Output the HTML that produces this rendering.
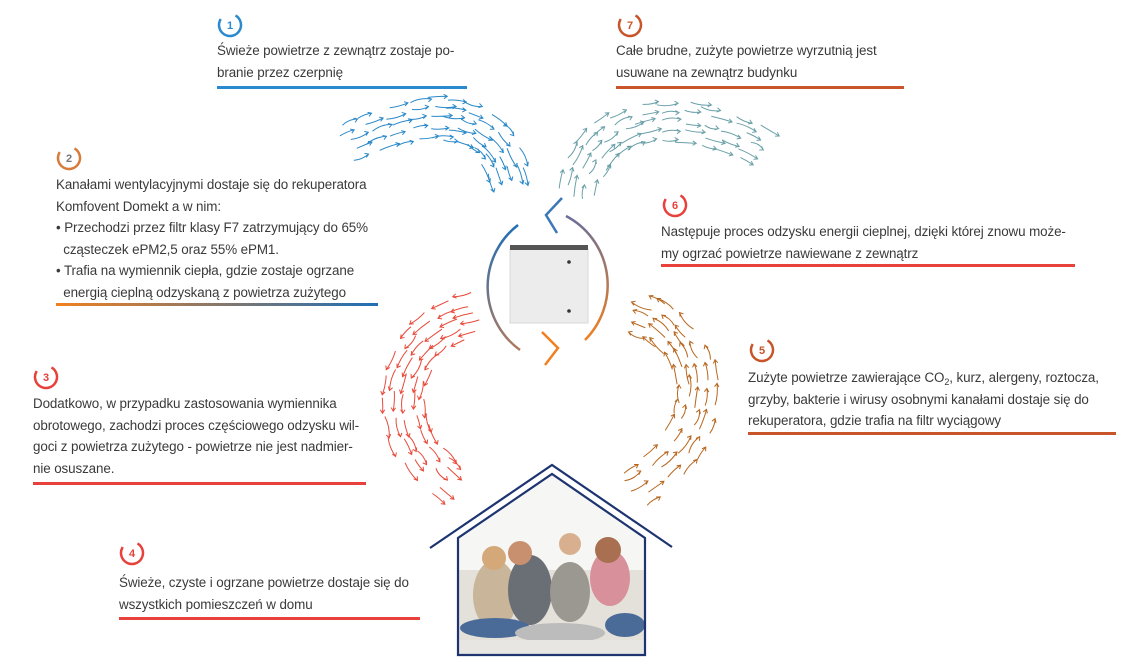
<!DOCTYPE html>
<html><head><meta charset="utf-8">
<style>
html,body{margin:0;padding:0;background:#fff;}
body{width:1144px;height:670px;position:relative;overflow:hidden;font-family:"Liberation Sans",sans-serif;color:#3a3a3a;}
.t{position:absolute;font-size:13.4px;line-height:21.5px;letter-spacing:-0.1px;}
.t sub{font-size:9px;line-height:0;vertical-align:-3px;}
.u{position:absolute;height:3px;}
svg{position:absolute;left:0;top:0;}
</style></head><body>
<svg width="1144" height="670" id="s">
<defs>
<linearGradient id="gL" x1="0" y1="0" x2="0" y2="1"><stop offset="0" stop-color="#1f6fb5"/><stop offset="1" stop-color="#b07a60"/></linearGradient>
<linearGradient id="gR" x1="0" y1="0" x2="0" y2="1"><stop offset="0" stop-color="#6a6f99"/><stop offset="1" stop-color="#f08020"/></linearGradient>
<clipPath id="hc"><path d="M458,655 L458,538 L552,474 L645,538 L645,655Z"/></clipPath>
</defs>
<g fill="none" stroke-width="2.5">
<circle cx="230" cy="25" r="11" stroke="#2a8ad0" stroke-dasharray="52 17" transform="rotate(-60 230 25)"/>
<circle cx="630" cy="25" r="11" stroke="#c8552a" stroke-dasharray="52 17" transform="rotate(-60 630 25)"/>
<circle cx="69" cy="158" r="11" stroke="#d87a3a" stroke-dasharray="52 17" transform="rotate(-60 69 158)"/>
<circle cx="675" cy="205" r="11" stroke="#e8403a" stroke-dasharray="52 17" transform="rotate(-60 675 205)"/>
<circle cx="762" cy="350" r="11" stroke="#c8552a" stroke-dasharray="52 17" transform="rotate(-60 762 350)"/>
<circle cx="46" cy="377" r="11" stroke="#e8403a" stroke-dasharray="52 17" transform="rotate(-60 46 377)"/>
<circle cx="132" cy="553" r="11" stroke="#e8403a" stroke-dasharray="52 17" transform="rotate(-60 132 553)"/>
</g>
<g font-family="Liberation Sans,sans-serif" font-size="11" font-weight="bold" text-anchor="middle">
<text x="230" y="29" fill="#2a8ad0">1</text>
<text x="630" y="29" fill="#c8552a">7</text>
<text x="69" y="162" fill="#777">2</text>
<text x="675" y="209" fill="#e8403a">6</text>
<text x="762" y="354" fill="#c8552a">5</text>
<text x="46" y="381" fill="#e8403a">3</text>
<text x="132" y="557" fill="#e8403a">4</text>
</g>
<path d="M518,225 A78,78 0 0 0 520,350" fill="none" stroke="url(#gL)" stroke-width="2.5"/>
<path d="M566,216 A78,78 0 0 1 585,340" fill="none" stroke="url(#gR)" stroke-width="2.5"/>
<path d="M562,198 L546,215 L557,233" fill="none" stroke="#3a78b8" stroke-width="2.5"/>
<path d="M542,332 L558,348 L545,365" fill="none" stroke="#f08020" stroke-width="2.5"/>
<rect x="510" y="249" width="78" height="74" fill="#ececec" stroke="#d8d8d8"/>
<rect x="510" y="245" width="78" height="5" fill="#555"/>
<circle cx="569" cy="262" r="1.8" fill="#333"/><circle cx="569" cy="311" r="1.8" fill="#333"/>
<g clip-path="url(#hc)">
<rect x="455" y="470" width="195" height="190" fill="#f6f6f4"/>
<rect x="458" y="570" width="190" height="70" fill="#e4e0da"/>
<ellipse cx="495" cy="595" rx="22" ry="35" fill="#c8b59a"/>
<circle cx="494" cy="558" r="12" fill="#d4a878"/>
<ellipse cx="530" cy="590" rx="22" ry="35" fill="#6a6e75"/>
<circle cx="520" cy="553" r="12" fill="#c99070"/>
<ellipse cx="570" cy="592" rx="20" ry="30" fill="#9a9890"/>
<circle cx="570" cy="544" r="11" fill="#d8b090"/>
<ellipse cx="610" cy="578" rx="20" ry="28" fill="#d8909a"/>
<circle cx="608" cy="550" r="13" fill="#a87050"/>
<ellipse cx="495" cy="628" rx="35" ry="10" fill="#4a6a98"/>
<ellipse cx="560" cy="633" rx="45" ry="10" fill="#bcbcbc"/>
<ellipse cx="625" cy="625" rx="20" ry="12" fill="#4a6a98"/>
<rect x="458" y="640" width="190" height="20" fill="#e8e6e2"/>
</g>
<path d="M458,655 L458,538 L552,474 L645,538 L645,655Z" fill="none" stroke="#1d3470" stroke-width="2.2"/>
<path d="M430,548 L552,465 L672,547" fill="none" stroke="#1d3470" stroke-width="2.2"/>
<g id="sw"></g>
</svg>

<div class="t" style="left:217px;top:40px">Świeże powietrze z zewnątrz zostaje po-<br>branie przez czerpnię</div>
<div class="u" style="left:217px;top:86px;width:250px;background:#2a8ad0"></div>
<div class="t" style="left:616px;top:40px">Całe brudne, zużyte powietrze wyrzutnią jest<br>usuwane na zewnątrz budynku</div>
<div class="u" style="left:616px;top:86px;width:288px;background:#c8552a"></div>
<div class="t" style="left:56px;top:174px">Kanałami wentylacyjnymi dostaje się do rekuperatora<br>Komfovent Domekt a w nim:<br>• Przechodzi przez filtr klasy F7 zatrzymujący do 65%<br>&nbsp;&nbsp;cząsteczek ePM2,5 oraz 55% ePM1.<br>• Trafia na wymiennik ciepła, gdzie zostaje ogrzane<br>&nbsp;&nbsp;energią cieplną odzyskaną z powietrza zużytego</div>
<div class="u" style="left:56px;top:303px;width:322px;background:linear-gradient(90deg,#f08020,#1f6fb5)"></div>
<div class="t" style="left:661px;top:221px">Następuje proces odzysku energii cieplnej, dzięki której znowu może-<br>my ogrzać powietrze nawiewane z zewnątrz</div>
<div class="u" style="left:661px;top:264px;width:414px;background:#e8403a"></div>
<div class="t" style="left:748px;top:367px">Zużyte powietrze zawierające CO<sub>2</sub>, kurz, alergeny, roztocza,<br>grzyby, bakterie i wirusy osobnymi kanałami dostaje się do<br>rekuperatora, gdzie trafia na filtr wyciągowy</div>
<div class="u" style="left:748px;top:432px;width:368px;background:#c8552a"></div>
<div class="t" style="left:33px;top:393px">Dodatkowo, w przypadku zastosowania wymiennika<br>obrotowego, zachodzi proces częściowego odzysku wil-<br>goci z powietrza zużytego - powietrze nie jest nadmier-<br>nie osuszane.</div>
<div class="u" style="left:33px;top:482px;width:333px;background:#e8403a"></div>
<div class="t" style="left:119px;top:572px">Świeże, czyste i ogrzane powietrze dostaje się do<br>wszystkich pomieszczeń w domu</div>
<div class="u" style="left:119px;top:617px;width:301px;background:#e8403a"></div>

<script>
(function(){
var g=document.getElementById('sw'),ns='http://www.w3.org/2000/svg';
function bez(p,t){var u=1-t;return [u*u*u*p[0][0]+3*u*u*t*p[1][0]+3*u*t*t*p[2][0]+t*t*t*p[3][0],u*u*u*p[0][1]+3*u*u*t*p[1][1]+3*u*t*t*p[2][1]+t*t*t*p[3][1]];}
var seed=11;function r(){seed=(seed*9301+49297)%233280;return seed/233280;}
function swarm(p,col,w,rows,cols){
 for(var i=0;i<cols;i++)for(var j=0;j<rows;j++){
  var t=(i+r()*0.6)/cols*0.95,o=((j+0.5)/rows-0.5)*w+(r()-0.5)*5;
  var a=bez(p,t),b=bez(p,Math.min(1,t+0.02));
  var dx=b[0]-a[0],dy=b[1]-a[1],L=Math.sqrt(dx*dx+dy*dy)||1;dx/=L;dy/=L;
  var nx=-dy,ny=dx,x=a[0]+nx*o,y=a[1]+ny*o,len=14+r()*8;
  var ex=x+dx*len,ey=y+dy*len,wig=(r()-0.5)*8;
  var mx=x+dx*len/2+nx*wig,my=y+dy*len/2+ny*wig;
  var path=document.createElementNS(ns,'path');
  var h1x=ex-dx*3.5+nx*2.2,h1y=ey-dy*3.5+ny*2.2,h2x=ex-dx*3.5-nx*2.2,h2y=ey-dy*3.5-ny*2.2;
  path.setAttribute('d','M'+x+','+y+' Q'+mx+','+my+' '+ex+','+ey+' M'+h1x+','+h1y+' L'+ex+','+ey+' L'+h2x+','+h2y);
  path.setAttribute('fill','none');path.setAttribute('stroke',col);path.setAttribute('stroke-width','1');
  g.appendChild(path);
 }
}
swarm([[340,145],[430,105],[500,100],[512,198]],'#2a88c8',48,5,11);
swarm([[575,198],[585,110],[700,100],[772,158]],'#6aa0a8',48,5,11);
swarm([[480,312],[400,325],[360,430],[472,500]],'#e84a3a',50,5,11);
swarm([[628,492],[740,430],[700,320],[626,312]],'#b8661e',48,5,10);
})();
</script>
</body></html>
